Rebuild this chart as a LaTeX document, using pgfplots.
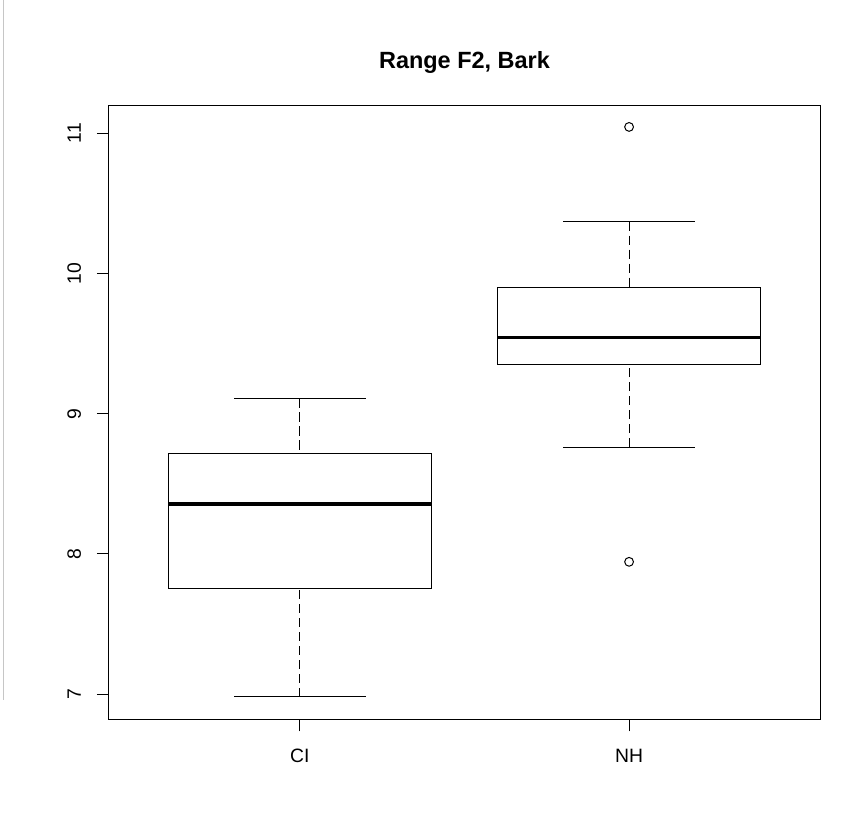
\documentclass[border=0pt]{standalone}
\usepackage{fontspec}
\setmainfont{Liberation Sans}
\usepackage{pgfplots}
\pgfplotsset{compat=1.18}
\usepgfplotslibrary{statistics}
\begin{document}
\begin{tikzpicture}
\useasboundingbox (-81.75pt,-74pt) rectangle (563.25pt,539.5pt);
\draw[gray!45, line width=0.75pt] (-78.75pt,539.5pt) -- (-78.75pt,14.5pt);
\begin{axis}[
  at={(0pt,0pt)}, anchor=south west,
  scale only axis, width=533.25pt, height=460.7pt,
  xmin=0.42, xmax=2.58, ymin=6.8195, ymax=11.201,
  xtick={1,2}, xticklabels={CI,NH},
  ytick={7,8,9,10,11},
  xtick pos=bottom, ytick pos=left,
  tick align=outside, major tick length=9pt,
  every tick/.style={black, line width=0.75pt},
  axis line style={black, line width=0.75pt},
  /pgf/number format/assume math mode=true,
  ticklabel style={font=\fontsize{14.5}{17}\selectfont},
  yticklabel style={xshift=-12pt, rotate=90, anchor=base},
  xticklabel style={yshift=-23pt, anchor=base},
  title={Range F2, Bark},
  title style={font=\fontsize{17.6}{21}\selectfont\bfseries, at={(axis description cs:0.5,1)}, anchor=base, yshift=21.75pt},
  boxplot/draw direction=y,
  boxplot/every median/.style={line width=2.6pt},
  boxplot/draw/lower whisker/.code={%
    \draw[black, line width=0.75pt, dash pattern=on 7pt off 3.5pt]
      (boxplot box cs:\pgfplotsboxplotvalue{lower whisker},0.5) --
      (boxplot box cs:\pgfplotsboxplotvalue{lower quartile},0.5);
    \draw[black, line width=0.75pt]
      (boxplot whisker cs:\pgfplotsboxplotvalue{lower whisker},0) --
      (boxplot whisker cs:\pgfplotsboxplotvalue{lower whisker},1);
  },
  boxplot/draw/upper whisker/.code={%
    \draw[black, line width=0.75pt, dash pattern=on 7pt off 3.5pt]
      (boxplot box cs:\pgfplotsboxplotvalue{upper whisker},0.5) --
      (boxplot box cs:\pgfplotsboxplotvalue{upper quartile},0.5);
    \draw[black, line width=0.75pt]
      (boxplot whisker cs:\pgfplotsboxplotvalue{upper whisker},0) --
      (boxplot whisker cs:\pgfplotsboxplotvalue{upper whisker},1);
  },
]
\addplot+[black, solid, line width=0.75pt, mark=o, mark size=3.3pt,
  mark options={black, solid, line width=0.75pt},
  boxplot prepared={draw position=1, lower whisker=6.98, lower quartile=7.754,
    median=8.355, upper quartile=8.719, upper whisker=9.11,
    box extend=0.8, whisker extend=0.4}]
  coordinates {};
\addplot+[black, solid, line width=0.75pt, mark=o, mark size=3.3pt,
  mark options={black, solid, line width=0.75pt},
  boxplot prepared={draw position=2, lower whisker=8.762, lower quartile=9.347,
    median=9.544, upper quartile=9.898, upper whisker=10.37,
    box extend=0.8, whisker extend=0.4}]
  table[row sep=\\, y index=0] {11.045\\ 7.943\\};
\end{axis}
\end{tikzpicture}
\end{document}
